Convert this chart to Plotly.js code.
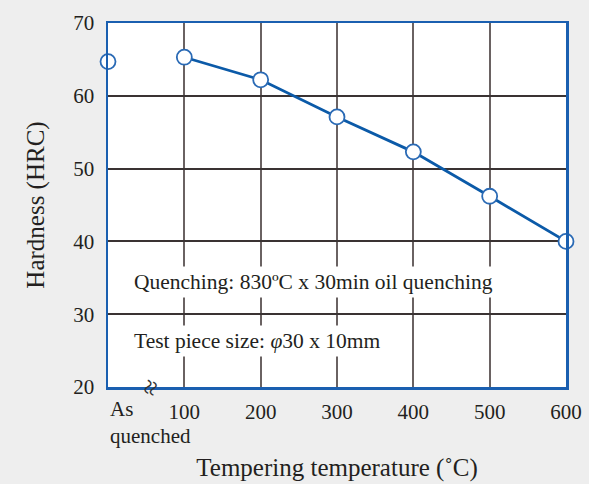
<!DOCTYPE html>
<html>
<head>
<meta charset="utf-8">
<script src="https://cdn.plot.ly/plotly-3.0.1.min.js"></script>
<style>html,body{margin:0;padding:0;background:#eeeeee;}#chart{width:589px;height:484px;}</style>
</head>
<body>
<div id="chart"></div>
<script>
// Data
const temperLabels = ["100", "200", "300", "400", "500", "600"];
const temperX = [100, 200, 300, 400, 500, 600];
const temperHardness = [65.3, 62.2, 57.1, 52.3, 46.2, 40.0];
const asQuenchedX = [0];
const asQuenchedHardness = [64.7];
const yTicks = [20, 30, 40, 50, 60, 70];

const blue = '#0b5aa8';
const textColor = '#231f20';
const font = 'Liberation Serif, Times New Roman, serif';

const markerStyle = {size: 15, color: '#ffffff', line: {color: '#2a6ab5', width: 1.8}};

const traces = [
  {x: temperX, y: temperHardness, mode: 'lines+markers', line: {color: blue, width: 2.8},
   marker: markerStyle, cliponaxis: false, hoverinfo: 'x+y'},
  {x: asQuenchedX, y: asQuenchedHardness, mode: 'markers', marker: markerStyle,
   cliponaxis: false, hoverinfo: 'y'}
];

const layout = {
  width: 589, height: 484,
  margin: {l: 108, r: 23, t: 23, b: 97},
  paper_bgcolor: '#eeeeee', plot_bgcolor: '#ffffff',
  showlegend: false,
  font: {family: font, color: textColor, size: 20},
  xaxis: {
    range: [0, 600], tickvals: temperX, ticktext: temperLabels,
    showgrid: true, gridcolor: '#6a6262', gridwidth: 2,
    showline: true, linecolor: '#1a5fb0', linewidth: 2.5, mirror: true,
    zeroline: false, ticks: '', ticklabelstandoff: 4,
    tickfont: {family: font, size: 21, color: textColor},
    title: {text: 'Tempering temperature (˚C)', font: {family: font, size: 25, color: textColor}, standoff: 36}
  },
  yaxis: {
    range: [20, 70], tickvals: yTicks, ticktext: yTicks.map(String),
    showgrid: true, gridcolor: '#3a3333', gridwidth: 2,
    showline: true, linecolor: '#1a5fb0', linewidth: 2.5, mirror: true,
    zeroline: false, ticks: '', ticklabelstandoff: 7,
    tickfont: {family: font, size: 21, color: textColor},
    title: {text: 'Hardness (HRC)', font: {family: font, size: 25, color: textColor}, standoff: 22}
  },
  annotations: [
    {xref: 'paper', yref: 'paper', x: 0, y: 0, xanchor: 'left', yanchor: 'top', yshift: -8,
     align: 'left', showarrow: false, text: 'As<br>quenched',
     font: {family: font, size: 21, color: textColor}},
    {xref: 'x', yref: 'y', x: 29, y: 34.4, xanchor: 'left', yanchor: 'middle', showarrow: false,
     text: 'Quenching: 830ºC x 30min oil quenching', bgcolor: '#ffffff', borderpad: 3,
     font: {family: font, size: 21.5, color: textColor}},
    {xref: 'x', yref: 'y', x: 29, y: 26.3, xanchor: 'left', yanchor: 'middle', showarrow: false,
     text: 'Test piece size: <i>φ</i>30 x 10mm', bgcolor: '#ffffff', borderpad: 3,
     font: {family: font, size: 21.5, color: textColor}},
    {xref: 'x', yref: 'paper', x: 55, y: 0, xanchor: 'center', yanchor: 'middle', showarrow: false,
     text: '≈', textangle: -70, font: {family: font, size: 28, color: '#333333'}}
  ]
};

Plotly.newPlot('chart', traces, layout, {displayModeBar: false, staticPlot: true});
</script>
</body>
</html>
